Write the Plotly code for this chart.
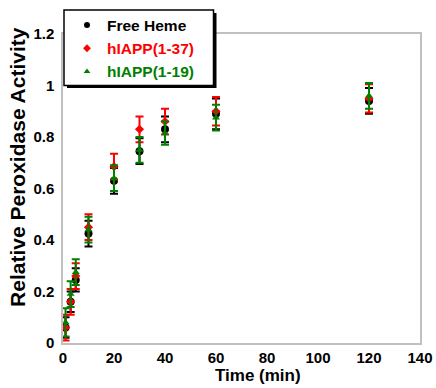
import plotly.graph_objects as go

time_min = [1, 3, 5, 10, 20, 30, 40, 60, 120]

heme_vals = [0.06, 0.16, 0.245, 0.425, 0.63, 0.745, 0.83, 0.89, 0.94]
heme_err = [0.04, 0.04, 0.045, 0.05, 0.05, 0.05, 0.05, 0.06, 0.05]

h37_vals = [0.06, 0.16, 0.26, 0.45, 0.685, 0.83, 0.86, 0.90, 0.95]
h37_err = [0.05, 0.05, 0.05, 0.05, 0.05, 0.05, 0.05, 0.055, 0.055]

h19_vals = [0.08, 0.19, 0.275, 0.44, 0.64, 0.75, 0.815, 0.875, 0.96]
h19_err = [0.055, 0.05, 0.05, 0.05, 0.05, 0.05, 0.045, 0.05, 0.05]

x_ticks = [0, 20, 40, 60, 80, 100, 120, 140]
y_ticks = [0, 0.2, 0.4, 0.6, 0.8, 1, 1.2]
y_tick_text = ["0", "0.2", "0.4", "0.6", "0.8", "1", "1.2"]

FONT = "Liberation Sans, Arial, sans-serif"

series = [
    ("Free Heme", heme_vals, heme_err, "#000000", "circle", 8, 6),
    ("hIAPP(1-37)", h37_vals, h37_err, "#ff0000", "diamond", 7, 6),
    ("hIAPP(1-19)", h19_vals, h19_err, "#008000", "triangle-up", 7, 6),
]

fig = go.Figure()
for name, vals, err, color, symbol, size, lsize in series:
    fig.add_trace(go.Scatter(
        x=time_min, y=vals, name=name, mode="markers", showlegend=False,
        marker=dict(color=color, symbol=symbol, size=size),
        error_y=dict(type="data", array=err, visible=True, color=color,
                     thickness=2, width=4),
    ))
# legend entries (small markers as in the reference legend)
for name, vals, err, color, symbol, size, lsize in series:
    fig.add_trace(go.Scatter(
        x=[None], y=[None], mode="markers", showlegend=True,
        name=f"<b><span style='color:{color}'>{name}</span></b>",
        marker=dict(color=color, symbol=symbol, size=lsize),
    ))

# pixel helpers for the legend frame
def px_x(p):
    return (p - 63) / 357

def px_y(p):
    return (343 - p) / 309

fig.update_layout(
    width=436, height=388,
    margin=dict(l=63, r=16, t=34, b=45, autoexpand=False),
    paper_bgcolor="white", plot_bgcolor="white",
    font=dict(family=FONT, size=15, color="black"),
    showlegend=True,
    legend=dict(
        x=px_x(67), y=px_y(8.5), xanchor="left", yanchor="top",
        bgcolor="rgba(0,0,0,0)", borderwidth=0,
        font=dict(family=FONT, size=15.5, color="black"),
        itemsizing="trace", tracegroupgap=0,
    ),
    shapes=[
        dict(type="rect", xref="paper", yref="paper", layer="above",
             x0=px_x(67), x1=px_x(216.5), y0=px_y(88), y1=px_y(13),
             fillcolor="black", line=dict(width=0)),
        dict(type="rect", xref="paper", yref="paper", layer="above",
             x0=px_x(64), x1=px_x(213.5), y0=px_y(85.5), y1=px_y(10),
             fillcolor="white", line=dict(color="black", width=1.5)),
    ],
    xaxis=dict(
        range=[0, 140], tickvals=x_ticks, showgrid=False, zeroline=False,
        showline=True, linecolor="#c0c0c0", linewidth=1.5, mirror=True,
        ticks="", tickfont=dict(family=FONT, size=15, color="black", weight="bold"),
        fixedrange=True,
    ),
    yaxis=dict(
        range=[0, 1.2], tickvals=y_ticks, ticktext=y_tick_text, showgrid=False,
        zeroline=False, showline=True, linecolor="#c0c0c0", linewidth=1.5,
        mirror=True, ticks="", ticklabelstandoff=4,
        tickfont=dict(family=FONT, size=15, color="black", weight="bold"),
        fixedrange=True,
    ),
    annotations=[
        dict(text="<b>Time (min)</b>", xref="paper", yref="paper",
             x=0.545, y=-0.105, xanchor="center", yanchor="middle",
             showarrow=False, font=dict(family=FONT, size=17, color="black")),
        dict(text="<b>Relative Peroxidase Activity</b>", xref="paper", yref="paper",
             x=-0.126, y=0.57, xanchor="center", yanchor="middle", textangle=-90,
             showarrow=False, font=dict(family=FONT, size=21, color="black")),
    ],
)

fig.write_html("out.html")
